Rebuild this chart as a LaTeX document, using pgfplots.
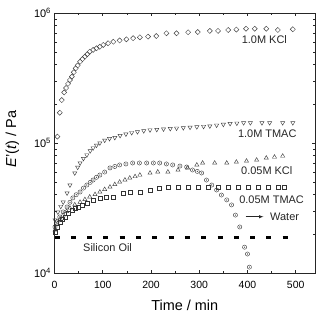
\documentclass[border=0pt]{standalone}
\usepackage{fontspec}
\setmainfont{Liberation Sans}
\usepackage{pgfplots}
\pgfplotsset{compat=1.18}
\usepackage{pgfplotstable}

\pgfplotstableread{
t E
6 1.12e5
11 1.71e5
15 2.14e5
20 2.45e5
24 2.65e5
28 2.85e5
32 3.05e5
36 3.24e5
40 3.5e5
44 3.75e5
48 3.95e5
53 4.22e5
58 4.42e5
63 4.61e5
68 4.82e5
73 5.04e5
80 5.2e5
87 5.35e5
94 5.5e5
101 5.68e5
111 5.85e5
122 6.01e5
135 6.15e5
149 6.27e5
163 6.4e5
177 6.5e5
194 6.58e5
211 6.65e5
232 6.98e5
253 6.98e5
277 7.11e5
297 7.14e5
322 7.28e5
339 7.28e5
360 7.4e5
377 7.46e5
397 7.57e5
415 7.57e5
439 7.57e5
463 7.4e5
494 7.5e5
}\kclhigh

\pgfplotstableread{
t E
1 2.56e4
7 2.94e4
13 3.25e4
18 3.51e4
26 4.12e4
32 4.75e4
42 5.88e4
48 6.5e4
53 7.02e4
60 7.6e4
67 8.09e4
74 8.7e4
80 9.16e4
87 9.6e4
94 1.0e5
104 1.05e5
114 1.08e5
125 1.10e5
136 1.14e5
148 1.17e5
160 1.2e5
172 1.22e5
185 1.24e5
198 1.26e5
212 1.27e5
226 1.28e5
240 1.29e5
253 1.30e5
267 1.31e5
281 1.32e5
295 1.33e5
309 1.34e5
322 1.35e5
336 1.37e5
350 1.39e5
364 1.41e5
378 1.42e5
392 1.43e5
406 1.43e5
430 1.43e5
446 1.43e5
473 1.43e5
494 1.43e5
}\tmachigh

\pgfplotstableread{
t E
1 2.26e4
6 2.5e4
11 2.7e4
18 2.95e4
26 3.22e4
32 3.5e4
38 3.78e4
45 4.0e4
53 4.2e4
60 4.5e4
67 4.75e4
74 4.98e4
80 5.19e4
87 5.45e4
94 5.67e4
104 5.98e4
115 6.43e4
125 6.6e4
135 6.78e4
148 6.9e4
162 7.02e4
176 7.02e4
191 7.02e4
205 7.02e4
218 7.02e4
232 6.9e4
245 6.78e4
260 6.65e4
274 6.54e4
286 6.2e4
296 6.05e4
305 5.88e4
315 5.19e4
326 4.75e4
336 4.35e4
346 3.98e4
357 3.65e4
367 3.34e4
375 2.79e4
384 2.26e4
394 1.58e4
400 1.4e4
404 1.11e4
}\water

\pgfplotstableread{
t E
1 2.14e4
6 2.4e4
12 2.6e4
18 2.79e4
25 2.98e4
32 3.16e4
42 3.35e4
53 3.51e4
63 3.68e4
73 3.85e4
84 4.02e4
94 4.2e4
104 4.4e4
115 4.59e4
125 4.8e4
135 5.01e4
146 5.2e4
156 5.38e4
167 5.52e4
177 5.67e4
198 5.88e4
214 5.99e4
235 5.99e4
256 6.2e4
276 6.43e4
295 6.78e4
307 7.02e4
332 7.02e4
357 7.02e4
377 7.14e4
398 7.27e4
419 7.4e4
439 7.67e4
456 7.8e4
473 7.94e4
}\kcllow

\pgfplotstableread{
t E
1 2.07e4
5 2.25e4
11 2.47e4
16 2.6e4
22 2.7e4
29 2.9e4
36 3.05e4
42 3.14e4
49 3.22e4
58 3.34e4
67 3.45e4
80 3.65e4
94 3.78e4
108 3.82e4
121 3.85e4
142 4.12e4
156 4.2e4
177 4.2e4
198 4.35e4
218 4.51e4
235 4.59e4
256 4.6e4
277 4.6e4
297 4.6e4
318 4.6e4
339 4.6e4
360 4.6e4
380 4.6e4
401 4.6e4
422 4.6e4
442 4.6e4
463 4.6e4
477 4.6e4
}\tmaclow

\pgfplotstableread{
t E
0 1.88e4
483 1.88e4
}\oil

\begin{document}
\begin{tikzpicture}
\begin{axis}[
  scale only axis, width=260.5bp, height=260bp,
  xmin=0, xmax=540, ymin=1e4, ymax=1e6, ymode=log,
  xtick={0,100,200,300,400,500}, minor xtick={50,150,250,350,450},
  ytick={1e4,1e5,1e6},
  yticklabels={10\textsuperscript{4},10\textsuperscript{5},10\textsuperscript{6}},
  tick align=inside, major tick length=3.5bp, minor tick length=2.2bp,
  /pgf/number format/assume math mode=true,
  xticklabel style={font=\fontsize{10.5}{12}\selectfont, yshift=-5bp},
  yticklabel style={font=\fontsize{11}{13}\selectfont},
  axis line style={line width=0.6bp, black!85},
  tick style={black!85, line width=0.5bp},
  xlabel={Time / min},
  ylabel={\textit{E}’(\textit{t}) / Pa},
  xlabel style={font=\fontsize{14.5}{16}\selectfont, at={(axis description cs:0.5,-0.1423)}, anchor=base},
  ylabel style={font=\fontsize{14.5}{16}\selectfont, at={(axis description cs:-0.1615,0.515)}, anchor=center},
  clip=false,
]
\addplot[only marks, mark=square, mark size=1.8bp, mark options={rotate=45, black!75, line width=0.45bp}] table[x=t, y=E] {\kclhigh};
\addplot[only marks, mark=triangle, mark size=2.4bp, mark options={rotate=180, black!75, line width=0.45bp}] table[x=t, y=E] {\tmachigh};
\addplot[only marks, mark=triangle, mark size=2.4bp, mark options={black!75, line width=0.45bp}] table[x=t, y=E] {\kcllow};
\addplot[only marks, mark=square, mark size=2bp, mark options={black!80, line width=0.45bp}] table[x=t, y=E] {\tmaclow};
\addplot[only marks, mark=o, mark size=2.1bp, mark options={black!75, line width=0.45bp}] table[x=t, y=E] {\water};
\addplot[only marks, mark=*, mark size=0.35bp, mark options={black!70}] table[x=t, y=E] {\water};
\addplot[black, line width=2.7bp, dash pattern=on 5bp off 11.3bp] table[x=t, y=E] {\oil};

\node[font=\fontsize{11}{13}\selectfont, black!85] at (axis cs:435,6.2e5) {1.0M KCl};
\node[font=\fontsize{11}{13}\selectfont, black!85] at (axis cs:441,1.17e5) {1.0M TMAC};
\node[font=\fontsize{11}{13}\selectfont, black!85] at (axis cs:440,6.09e4) {0.05M KCl};
\node[font=\fontsize{11}{13}\selectfont, black!85] at (axis cs:450,3.64e4) {0.05M TMAC};
\node[font=\fontsize{11}{13}\selectfont, black!85] at (axis cs:477,2.71e4) {Water};
\draw[-latex, black!85, line width=0.5bp] (axis cs:396,2.71e4) -- (axis cs:433,2.71e4);
\node[font=\fontsize{11}{13}\selectfont, black!85] at (axis cs:110,1.56e4) {Silicon Oil};
\end{axis}
\pgfresetboundingbox
\path ([shift={(-54.5bp,-39bp)}]current axis.south west) rectangle ([shift={(4bp,13bp)}]current axis.north east);
\end{tikzpicture}
\end{document}
